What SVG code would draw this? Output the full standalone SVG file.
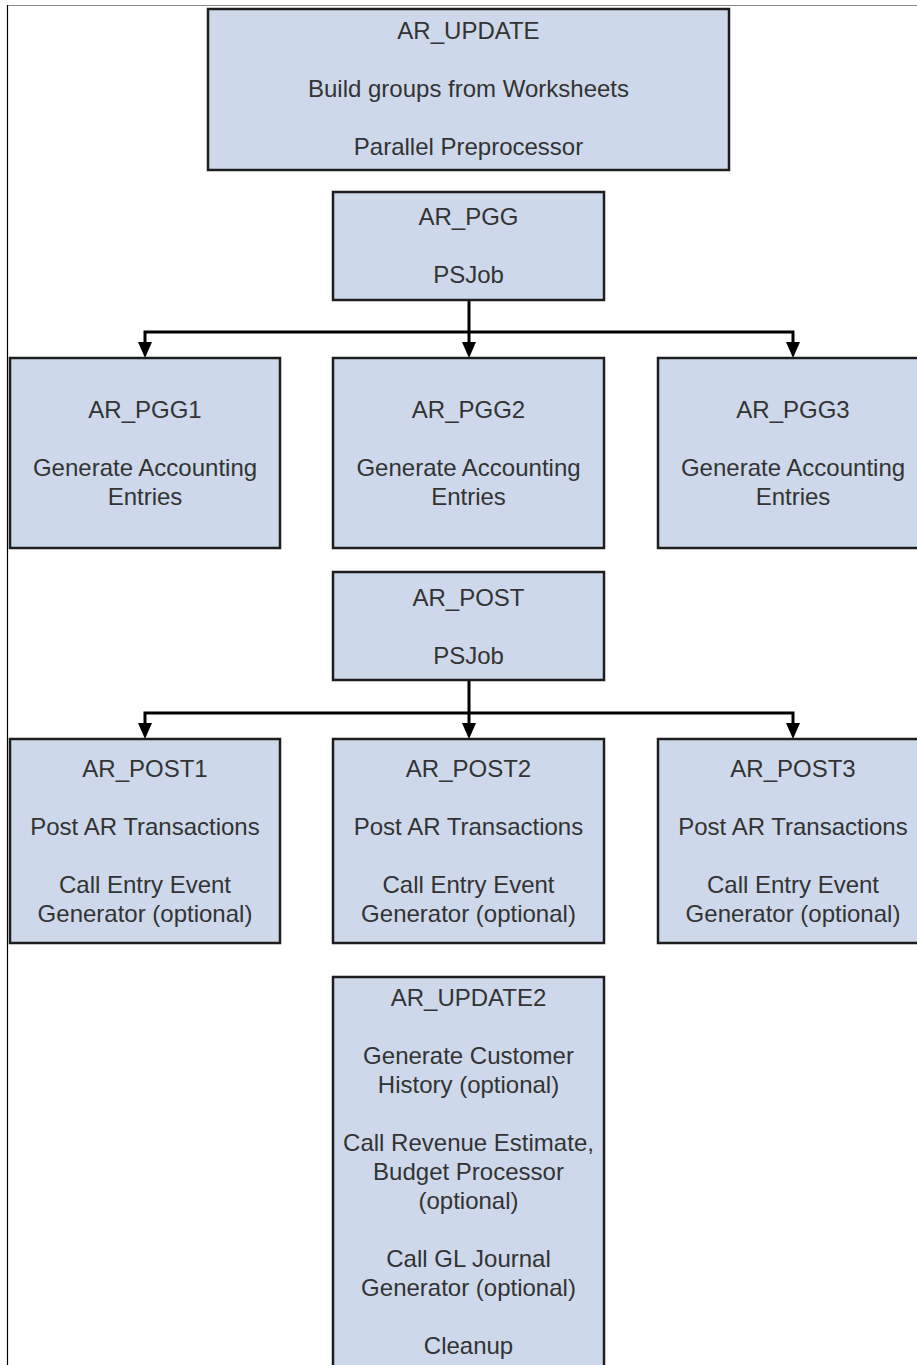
<svg xmlns="http://www.w3.org/2000/svg" width="917" height="1365" viewBox="0 0 917 1365">
<style>
.box{fill:#cdd9ea;stroke:#1e1e1e;stroke-width:2.5}
.t{font-family:"Liberation Sans",Arial,sans-serif;font-size:24px;fill:#333;text-anchor:middle}
.c{stroke:#000;stroke-width:3;fill:none}
.ah{fill:#000}
</style>
<rect width="917" height="1365" fill="#fff"/>
<line x1="7" y1="5.5" x2="917" y2="5.5" stroke="#888" stroke-width="1"/>
<line x1="7.5" y1="5" x2="7.5" y2="1365" stroke="#000" stroke-width="1.2"/>
<g id="connectors">
<path class="c" d="M469,300 V342 M145,342 V332 H793 V342"/>
<polygon class="ah" points="462,342 476,342 469,358"/>
<polygon class="ah" points="138,342 152,342 145,358"/>
<polygon class="ah" points="786,342 800,342 793,358"/>
<path class="c" d="M469,680 V723 M145,723 V713 H793 V723"/>
<polygon class="ah" points="462,723 476,723 469,739"/>
<polygon class="ah" points="138,723 152,723 145,739"/>
<polygon class="ah" points="786,723 800,723 793,739"/>
</g>
<g id="ar_update">
<rect class="box" x="208" y="9" width="521" height="161"/>
<text class="t" x="468.5" y="38.5">AR_UPDATE</text>
<text class="t" x="468.5" y="96.5">Build groups from Worksheets</text>
<text class="t" x="468.5" y="154.5">Parallel Preprocessor</text>
</g>
<g id="ar_pgg">
<rect class="box" x="333" y="192" width="271" height="108"/>
<text class="t" x="468.5" y="224.5">AR_PGG</text>
<text class="t" x="468.5" y="282.5">PSJob</text>
</g>
<g id="ar_pgg1">
<rect class="box" x="10" y="358" width="270" height="190"/>
<text class="t" x="145" y="417.5">AR_PGG1</text>
<text class="t" x="145" y="475.5">Generate Accounting</text>
<text class="t" x="145" y="504.5">Entries</text>
</g>
<g id="ar_pgg2">
<rect class="box" x="333" y="358" width="271" height="190"/>
<text class="t" x="468.5" y="417.5">AR_PGG2</text>
<text class="t" x="468.5" y="475.5">Generate Accounting</text>
<text class="t" x="468.5" y="504.5">Entries</text>
</g>
<g id="ar_pgg3">
<rect class="box" x="658" y="358" width="270" height="190"/>
<text class="t" x="793" y="417.5">AR_PGG3</text>
<text class="t" x="793" y="475.5">Generate Accounting</text>
<text class="t" x="793" y="504.5">Entries</text>
</g>
<g id="ar_post">
<rect class="box" x="333" y="572" width="271" height="108"/>
<text class="t" x="468.5" y="605.5">AR_POST</text>
<text class="t" x="468.5" y="663.5">PSJob</text>
</g>
<g id="ar_post1">
<rect class="box" x="10" y="739" width="270" height="204"/>
<text class="t" x="145" y="776.5">AR_POST1</text>
<text class="t" x="145" y="834.5">Post AR Transactions</text>
<text class="t" x="145" y="892.5">Call Entry Event</text>
<text class="t" x="145" y="921.5">Generator (optional)</text>
</g>
<g id="ar_post2">
<rect class="box" x="333" y="739" width="271" height="204"/>
<text class="t" x="468.5" y="776.5">AR_POST2</text>
<text class="t" x="468.5" y="834.5">Post AR Transactions</text>
<text class="t" x="468.5" y="892.5">Call Entry Event</text>
<text class="t" x="468.5" y="921.5">Generator (optional)</text>
</g>
<g id="ar_post3">
<rect class="box" x="658" y="739" width="270" height="204"/>
<text class="t" x="793" y="776.5">AR_POST3</text>
<text class="t" x="793" y="834.5">Post AR Transactions</text>
<text class="t" x="793" y="892.5">Call Entry Event</text>
<text class="t" x="793" y="921.5">Generator (optional)</text>
</g>
<g id="ar_update2">
<rect class="box" x="333" y="977" width="271" height="420"/>
<text class="t" x="468.5" y="1005.5">AR_UPDATE2</text>
<text class="t" x="468.5" y="1063.5">Generate Customer</text>
<text class="t" x="468.5" y="1092.5">History (optional)</text>
<text class="t" x="468.5" y="1150.5">Call Revenue Estimate,</text>
<text class="t" x="468.5" y="1179.5">Budget Processor</text>
<text class="t" x="468.5" y="1208.5">(optional)</text>
<text class="t" x="468.5" y="1266.5">Call GL Journal</text>
<text class="t" x="468.5" y="1295.5">Generator (optional)</text>
<text class="t" x="468.5" y="1353.5">Cleanup</text>
</g>
</svg>
